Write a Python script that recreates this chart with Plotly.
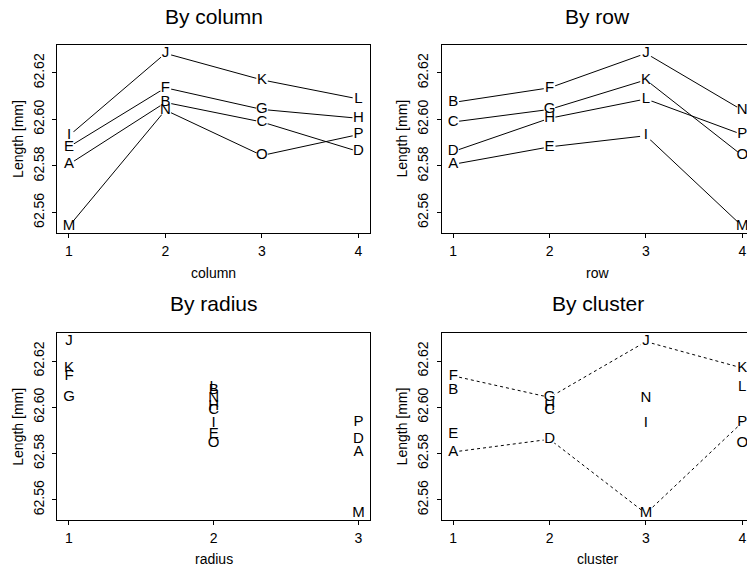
import plotly.graph_objects as go

# ---------------- data ----------------
letters = list("ABCDEFGHIJKLMNOP")
length_mm = [62.5807, 62.6073, 62.5989, 62.5862,
             62.5882, 62.6136, 62.6043, 62.6005,
             62.5930, 62.6284, 62.6170, 62.6088,
             62.5541, 62.6040, 62.5845, 62.5935]
column = [1, 2, 3, 4, 1, 2, 3, 4, 1, 2, 3, 4, 1, 2, 3, 4]
row = [1, 1, 1, 1, 2, 2, 2, 2, 3, 3, 3, 3, 4, 4, 4, 4]
radius = [3, 2, 2, 3, 2, 1, 1, 2, 2, 1, 1, 2, 3, 2, 2, 3]
cluster = [1, 1, 2, 2, 1, 1, 2, 2, 3, 3, 4, 4, 3, 3, 4, 4]
cluster_paths = [["F", "G", "J", "K"], ["A", "D", "M", "P"]]
y_ticks = [62.56, 62.58, 62.60, 62.62]
y_tick_text = ["62.56", "62.58", "62.60", "62.62"]

val = dict(zip(letters, length_mm))
FONT = "Liberation Sans, Arial, sans-serif"
W, H = 747, 571

fig = go.Figure()

def add_panel(ax, xs, groups=None, dash="solid"):
    xa = "x" if ax == 1 else f"x{ax}"
    ya = "y" if ax == 1 else f"y{ax}"
    pos = dict(zip(letters, xs))
    if groups:
        for g in groups:
            fig.add_trace(go.Scatter(x=[pos[l] for l in g], y=[val[l] for l in g],
                                     mode="lines", line=dict(color="black", width=1, dash=dash),
                                     xaxis=xa, yaxis=ya, showlegend=False, hoverinfo="skip",
                                     cliponaxis=False))
        pts = [l for g in groups for l in g]
        fig.add_trace(go.Scatter(x=[pos[l] for l in pts], y=[val[l] for l in pts],
                                 mode="markers", marker=dict(color="white", size=12, symbol="circle"),
                                 xaxis=xa, yaxis=ya, showlegend=False, hoverinfo="skip",
                                 cliponaxis=False))
    fig.add_trace(go.Scatter(x=xs, y=length_mm, mode="text", text=letters,
                             textposition="middle center",
                             textfont=dict(family=FONT, size=15, color="black"),
                             xaxis=xa, yaxis=ya, showlegend=False, cliponaxis=False))

# groupings for lines
by_row_groups = [[l for l, r in zip(letters, row) if r == k] for k in (1, 2, 3, 4)]
by_col_groups = [[l for l, c in zip(letters, column) if c == k] for k in (1, 2, 3, 4)]

add_panel(1, column, by_row_groups)
add_panel(2, row, by_col_groups)
add_panel(3, radius, None)
add_panel(4, cluster, cluster_paths, dash="dot")

xl = [57.4 / W, 370 / W]
xr = [441.7 / W, 1.0]
yt = [1 - 232.7 / H, 1 - 45 / H]
yb = [1 - 520 / H, 1 - 333.3 / H]
yrange = [62.5513, 62.6320]

def xaxis(domain, rng, anchor, ticks):
    return dict(domain=domain, range=rng, anchor=anchor, tickvals=ticks,
                ticktext=[str(t) for t in ticks], showline=True, linecolor="black",
                linewidth=1, mirror=True, ticks="outside", ticklen=4, tickcolor="black",
                showgrid=False, zeroline=False, ticklabelstandoff=1,
                tickfont=dict(family=FONT, size=14, color="black"))

def yaxis(domain, anchor, mirror):
    return dict(domain=domain, range=yrange, anchor=anchor, tickvals=y_ticks,
                ticktext=y_tick_text, tickangle=-90, showline=True, linecolor="black",
                linewidth=1, mirror=mirror, ticks="outside", ticklen=4, tickcolor="black",
                showgrid=False, zeroline=False, ticklabelstandoff=3,
                tickfont=dict(family=FONT, size=14, color="black"))

fig.update_layout(
    width=W, height=H, margin=dict(l=0, r=0, t=0, b=0),
    paper_bgcolor="white", plot_bgcolor="white",
    xaxis=xaxis(xl, [0.88, 4.12], "y", [1, 2, 3, 4]),
    yaxis=yaxis(yt, "x", True),
    xaxis2=xaxis(xr, [0.88, 4.049], "y2", [1, 2, 3, 4]),
    yaxis2=yaxis(yt, "x2", False),
    xaxis3=xaxis(xl, [0.92, 3.08], "y3", [1, 2, 3]),
    yaxis3=yaxis(yb, "x3", True),
    xaxis4=xaxis(xr, [0.88, 4.049], "y4", [1, 2, 3, 4]),
    yaxis4=yaxis(yb, "x4", False),
)

ann = []
def title(text, xc, yc, size=21, angle=0):
    ann.append(dict(text=text, x=xc / W, y=1 - yc / H, xref="paper", yref="paper",
                    xanchor="center", yanchor="middle", showarrow=False, textangle=angle,
                    font=dict(family=FONT, size=size, color="black")))

title("By column", 213.7, 17)
title("By row", 597.9, 17)
title("By radius", 213.7, 303)
title("By cluster", 597.9, 303)
title("column", 213.7, 273, 14)
title("row", 597.9, 273, 14)
title("radius", 213.7, 559, 14)
title("cluster", 597.9, 559, 14)
for xc in (18, 401.7):
    title("Length [mm]", xc, 138.9, 14, -90)
    title("Length [mm]", xc, 426.7, 14, -90)
fig.update_layout(annotations=ann)

fig.write_html("out.html", config={"displayModeBar": False},
               post_script="document.body.style.margin='0';document.body.style.overflow='hidden';")
